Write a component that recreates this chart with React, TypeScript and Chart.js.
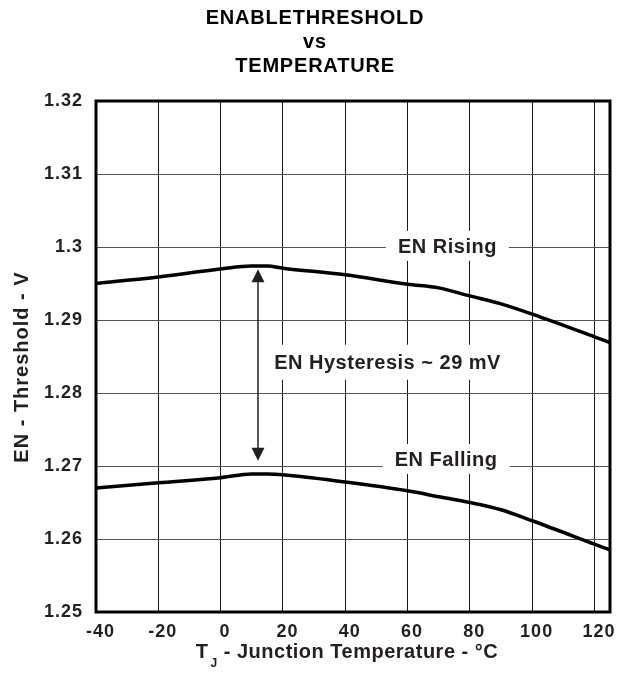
import { useEffect, useRef } from 'react';
import { Chart, registerables } from 'chart.js';

Chart.register(...registerables);

// ---- data ----
const temperatures = [-40, -20, 0, 10, 15, 20, 40, 60, 70, 80, 90, 100, 120, 125];
const enRising = [1.295, 1.2959, 1.297, 1.2974, 1.2974, 1.2971, 1.2962, 1.2949, 1.2944, 1.2933, 1.2922, 1.2908, 1.2877, 1.2869];
const enFalling = [1.267, 1.2677, 1.2684, 1.2689, 1.2689, 1.2688, 1.2678, 1.2666, 1.2658, 1.265, 1.264, 1.2625, 1.2593, 1.2585];
const xTickValues = [-40, -20, 0, 20, 40, 60, 80, 100, 120];
const yTickValues = [1.25, 1.26, 1.27, 1.28, 1.29, 1.3, 1.31, 1.32];
const xRange = [-40, 125];
const yRange = [1.25, 1.32];

const titleLines = ['ENABLETHRESHOLD', 'vs', 'TEMPERATURE'];
const yAxisTitle = 'EN - Threshold - V';
const xAxisTitleMain = 'T';
const xAxisTitleSub = 'J';
const xAxisTitleRest = ' - Junction Temperature - °C';

const labelTexts = ['EN Rising', 'EN Falling', 'EN Hysteresis ~ 29 mV'];
const labelTemps = [72.8, 72.4, 53.6];
const labelValues = [1.30016, 1.27097, 1.28422];

const arrowTemp = 12;
const arrowValues = [1.29695, 1.27073];

const FONT = "'Liberation Sans', Arial, Helvetica, sans-serif";
const INK = '#231f20';

const decorPlugin = {
  id: 'decor',
  beforeDraw(chart: any) {
    const ctx = chart.ctx;
    ctx.save();
    ctx.fillStyle = '#ffffff';
    ctx.fillRect(0, 0, chart.width, chart.height);
    ctx.restore();
    ctx.letterSpacing = '1px';
  },
  beforeDatasetsDraw(chart: any) {
    const ctx = chart.ctx;
    const xs = chart.scales.x;
    const ys = chart.scales.y;
    // labels with white boxes
    ctx.save();
    ctx.font = `bold 20px ${FONT}`;
    ctx.letterSpacing = '0.5px';
    ctx.textAlign = 'left';
    ctx.textBaseline = 'alphabetic';
    for (let i = 0; i < labelTexts.length; i++) {
      const cx = xs.getPixelForValue(labelTemps[i]);
      const cy = ys.getPixelForValue(labelValues[i]);
      const w = ctx.measureText(labelTexts[i]).width;
      const padX = i === 2 ? 11 : 12;
      const h = i === 2 ? 35 : 30;
      ctx.fillStyle = '#ffffff';
      ctx.fillRect(cx - w / 2 - padX, cy - h / 2, w + 2 * padX, h);
      ctx.fillStyle = INK;
      ctx.fillText(labelTexts[i], cx - w / 2, cy + 7.2);
    }
    // hysteresis arrow
    const ax = xs.getPixelForValue(arrowTemp);
    const yTop = ys.getPixelForValue(arrowValues[0]);
    const yBot = ys.getPixelForValue(arrowValues[1]);
    const headLen = 13;
    const headHalf = 6.5;
    ctx.strokeStyle = INK;
    ctx.fillStyle = INK;
    ctx.lineWidth = 1.5;
    ctx.beginPath();
    ctx.moveTo(ax, yTop + headLen - 1);
    ctx.lineTo(ax, yBot - headLen + 1);
    ctx.stroke();
    ctx.beginPath();
    ctx.moveTo(ax, yTop);
    ctx.lineTo(ax - headHalf, yTop + headLen);
    ctx.lineTo(ax + headHalf, yTop + headLen);
    ctx.closePath();
    ctx.fill();
    ctx.beginPath();
    ctx.moveTo(ax, yBot);
    ctx.lineTo(ax - headHalf, yBot - headLen);
    ctx.lineTo(ax + headHalf, yBot - headLen);
    ctx.closePath();
    ctx.fill();
    ctx.restore();
  },
  afterDatasetsDraw(chart: any) {
    const ctx = chart.ctx;
    const a = chart.chartArea;
    ctx.save();
    ctx.strokeStyle = '#000000';
    ctx.lineWidth = 3;
    ctx.strokeRect(a.left, a.top, a.right - a.left, a.bottom - a.top);
    ctx.restore();
  },
  afterDraw(chart: any) {
    const ctx = chart.ctx;
    const a = chart.chartArea;
    ctx.save();
    ctx.fillStyle = '#000000';
    ctx.font = `bold 20px ${FONT}`;
    ctx.letterSpacing = '0.8px';
    ctx.textAlign = 'center';
    ctx.textBaseline = 'alphabetic';
    const titleBaselines = [24, 48, 71.5];
    titleLines.forEach((t, i) => ctx.fillText(t, chart.width / 2 + 1, titleBaselines[i]));

    // y axis title
    ctx.fillStyle = INK;
    ctx.letterSpacing = '1px';
    ctx.save();
    ctx.translate(27.5, (a.top + a.bottom) / 2 + 10.5);
    ctx.rotate(-Math.PI / 2);
    ctx.textAlign = 'center';
    ctx.fillText(yAxisTitle, 0, 0);
    ctx.restore();

    // x axis title with subscript
    ctx.textAlign = 'left';
    ctx.letterSpacing = '0.5px';
    ctx.font = `bold 20px ${FONT}`;
    const wMain = ctx.measureText(xAxisTitleMain).width;
    const wRest = ctx.measureText(xAxisTitleRest).width;
    ctx.font = `bold 12px ${FONT}`;
    const wSub = ctx.measureText(xAxisTitleSub).width;
    const total = wMain + 2 + wSub + wRest;
    const cx = (a.left + a.right) / 2 - 6;
    let x = cx - total / 2;
    const base = a.bottom + 46;
    ctx.font = `bold 20px ${FONT}`;
    ctx.fillText(xAxisTitleMain, x, base);
    x += wMain + 2;
    ctx.font = `bold 12px ${FONT}`;
    ctx.fillText(xAxisTitleSub, x, base + 9);
    x += wSub;
    ctx.font = `bold 20px ${FONT}`;
    ctx.fillText(xAxisTitleRest, x, base);
    ctx.restore();
  },
};

export default function App() {
  const ref = useRef<HTMLCanvasElement>(null);

  useEffect(() => {
    if (!ref.current) return;
    const chart = new Chart(ref.current, {
      type: 'line',
      data: {
        datasets: [
          {
            label: 'EN Rising',
            data: temperatures.map((t, i) => ({ x: t, y: enRising[i] })),
            borderColor: '#000000',
            borderWidth: 3.5,
            pointRadius: 0,
            fill: false,
            cubicInterpolationMode: 'monotone',
          },
          {
            label: 'EN Falling',
            data: temperatures.map((t, i) => ({ x: t, y: enFalling[i] })),
            borderColor: '#000000',
            borderWidth: 3.5,
            pointRadius: 0,
            fill: false,
            cubicInterpolationMode: 'monotone',
          },
        ],
      },
      options: {
        responsive: false,
        animation: false,
        devicePixelRatio: 1,
        layout: { padding: { top: 101, right: 18, left: 0, bottom: 0 } },
        plugins: {
          legend: { display: false },
          tooltip: { enabled: false },
          title: { display: false },
        },
        scales: {
          x: {
            type: 'linear',
            min: xRange[0],
            max: xRange[1],
            afterBuildTicks: (scale: any) => {
              scale.ticks = xTickValues.map((v) => ({ value: v }));
            },
            afterFit: (scale: any) => {
              scale.height = 61;
            },
            grid: { color: '#1a1a1a', lineWidth: 1, drawTicks: false },
            border: { display: false },
            ticks: {
              padding: 9,
              labelOffset: 4.5,
              maxRotation: 0,
              autoSkip: false,
              color: INK,
              font: { family: FONT, size: 18, weight: 'bold' },
              callback: (v: any) => String(v),
            },
          },
          y: {
            type: 'linear',
            min: yRange[0],
            max: yRange[1],
            afterBuildTicks: (scale: any) => {
              scale.ticks = yTickValues.map((v) => ({ value: v }));
            },
            afterFit: (scale: any) => {
              scale.width = 96;
            },
            grid: { color: '#555555', lineWidth: 1, drawTicks: false },
            border: { display: false },
            ticks: {
              padding: 13,
              autoSkip: false,
              color: INK,
              font: { family: FONT, size: 18, weight: 'bold' },
              callback: (v: any) => String(Number(Number(v).toFixed(2))),
            },
          },
        },
      },
      plugins: [decorPlugin],
    } as any);
    return () => chart.destroy();
  }, []);

  return (
    <div style={{ position: 'absolute', left: 0, top: 0, width: 628, height: 673, background: '#fff' }}>
      <canvas ref={ref} width={628} height={673} style={{ display: 'block', width: 628, height: 673 }} />
    </div>
  );
}
